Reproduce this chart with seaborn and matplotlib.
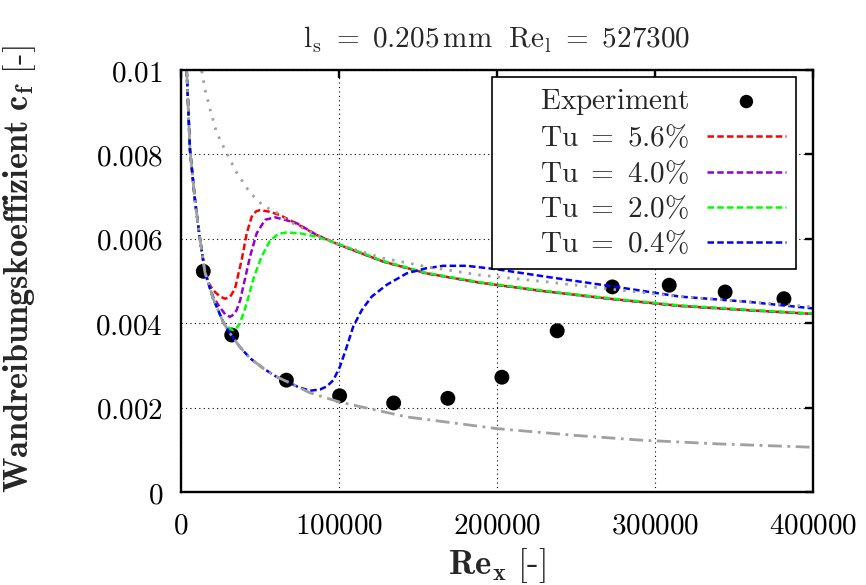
import matplotlib
matplotlib.use("Agg")
import matplotlib.pyplot as plt
from matplotlib.ticker import FixedLocator, FuncFormatter
import seaborn as sns

# Measured skin friction
exp_re = [14100, 32100, 66700, 100400, 134600, 168900, 203100, 238100,
          273000, 309000, 344400, 381600]
exp_cf = [0.00523, 0.00372, 0.00265, 0.00228, 0.00211, 0.00222, 0.00272,
          0.00382, 0.00486, 0.00490, 0.00474, 0.00458]

# Simulations for different inlet turbulence intensities
tu56_re = [3600, 5700, 8900, 11600, 15200, 18000, 20400, 24700, 28000, 31000,
           34200, 36500, 38400, 41600, 44700, 47500, 50000, 56300, 62700,
           71100, 85900, 100600, 128000, 155500, 189200, 231400, 273600,
           315800, 358000, 400000]
tu56_cf = [0.0100, 0.0081, 0.0069, 0.0061, 0.0052, 0.00492, 0.00478, 0.00463,
           0.00458, 0.00462, 0.00482, 0.00520, 0.00550, 0.00613, 0.00652,
           0.00665, 0.00668, 0.00664, 0.00656, 0.00640, 0.00609, 0.00585,
           0.00546, 0.00518, 0.00496, 0.00475, 0.00457, 0.00441, 0.00431,
           0.00422]

tu40_re = [3600, 5700, 8900, 11600, 15200, 20400, 24700, 28000, 31000, 33500,
           35200, 37500, 39400, 43700, 47900, 53200, 59500, 64800, 73200,
           85900, 100600, 128000, 155500, 189200, 231400, 273600, 315800,
           358000, 400000]
tu40_cf = [0.0100, 0.0081, 0.0069, 0.0061, 0.0052, 0.00462, 0.00437, 0.00421,
           0.00415, 0.00421, 0.00431, 0.00455, 0.00487, 0.00558, 0.00613,
           0.00645, 0.00651, 0.00646, 0.00637, 0.00609, 0.00585, 0.00546,
           0.00518, 0.00496, 0.00475, 0.00457, 0.00441, 0.00431, 0.00422]

tu20_re = [3600, 5700, 8900, 11600, 15200, 20400, 26800, 31000, 33100, 35500,
           37300, 41600, 45800, 51000, 56300, 61600, 66900, 75300, 85900,
           99600, 128000, 155500, 189200, 231400, 273600, 315800, 358000,
           400000]
tu20_cf = [0.0100, 0.0081, 0.0069, 0.0061, 0.0052, 0.00458, 0.00402, 0.00386,
           0.00384, 0.00390, 0.00400, 0.00447, 0.00505, 0.00558, 0.00595,
           0.00612, 0.00615, 0.00613, 0.00605, 0.00588, 0.00547, 0.00519,
           0.00497, 0.00476, 0.00458, 0.00442, 0.00432, 0.00423]

tu04_re = [3600, 5700, 8900, 11600, 15200, 20400, 26800, 31000, 37000, 43700,
           52100, 60000, 66900, 74000, 81600, 88000, 92200, 96400, 100600,
           104900, 109000, 114400, 120700, 130200, 142800, 155000, 166000,
           180800, 199500, 231400, 273600, 315800, 358000, 400000]
tu04_cf = [0.0100, 0.0081, 0.0069, 0.0061, 0.0052, 0.00458, 0.00402, 0.00376,
           0.00345, 0.00317, 0.00293, 0.00274, 0.00262, 0.00249, 0.00240,
           0.00243, 0.00250, 0.00265, 0.00297, 0.00344, 0.00392, 0.00431,
           0.00463, 0.00491, 0.00518, 0.00530, 0.00536, 0.00536, 0.00528,
           0.00510, 0.00487, 0.00463, 0.00451, 0.00435]

# Laminar (Blasius) and turbulent reference correlations
lam_re = [3600, 5700, 8900, 11600, 15200, 20400, 26800, 31000, 37000, 43700,
          52100, 60000, 66900, 74000, 81600, 100600, 142800, 200400, 250000,
          290500, 340000, 400000]
lam_cf = [0.0100, 0.0081, 0.0069, 0.0061, 0.0052, 0.00458, 0.00402, 0.00376,
          0.00345, 0.00317, 0.00293, 0.00274, 0.00262, 0.00249, 0.00235,
          0.00213, 0.00178, 0.00150, 0.00134, 0.00123, 0.00114, 0.00106]

turb_re = [13100, 15200, 18400, 22600, 28900, 35200, 43700, 52100, 60600,
           69000, 85900, 100600, 128000, 155500, 189200, 231400, 273600,
           315800, 358000, 400000]
turb_cf = [0.00998, 0.00954, 0.00907, 0.00851, 0.00803, 0.00757, 0.00709,
           0.00678, 0.00662, 0.00640, 0.00609, 0.00585, 0.00554, 0.00534,
           0.00514, 0.00498, 0.00480, 0.00463, 0.00451, 0.00439]

x_ticks = [0, 100000, 200000, 300000, 400000]
y_ticks = [0, 0.002, 0.004, 0.006, 0.008, 0.01]
y_tick_labels = ["0", "0.002", "0.004", "0.006", "0.008", "0.01"]

sns.set_theme(style="white")
plt.rcParams.update({
    "mathtext.fontset": "cm",
    "font.family": ["DejaVu Serif"],
    "font.size": 21,
    "axes.unicode_minus": False,
})

W, H = 866, 585
fig = plt.figure(figsize=(W / 100, H / 100), dpi=100)
ax = fig.add_axes([181 / W, 1 - 492 / H, 632 / W, 422 / H])

dash = (0, (2.6, 1.3))
lw = 1.8

sns.scatterplot(x=exp_re, y=exp_cf, ax=ax, color="black", s=115,
                edgecolor="none", label=r"$\ \ \ \ \,\mathrm{Experiment}$",
                zorder=3)

series = [
    (tu56_re, tu56_cf, "#ff0000", r"$\mathrm{Tu}\ =\ 5.6\%$"),
    (tu40_re, tu40_cf, "#9400d3", r"$\mathrm{Tu}\ =\ 4.0\%$"),
    (tu20_re, tu20_cf, "#00ff00", r"$\mathrm{Tu}\ =\ 2.0\%$"),
    (tu04_re, tu04_cf, "#0000ff", r"$\mathrm{Tu}\ =\ 0.4\%$"),
]
for xs, ys, col, lab in series:
    sns.lineplot(x=xs, y=ys, ax=ax, color=col, linewidth=lw, linestyle=dash,
                 label=lab, estimator=None, zorder=4)

sns.lineplot(x=turb_re, y=turb_cf, ax=ax, color="#a0a0a0", linewidth=2.0,
             linestyle=(0, (0.9, 2.6)), estimator=None, legend=False, zorder=5)
sns.lineplot(x=lam_re, y=lam_cf, ax=ax, color="#a0a0a0", linewidth=2.0,
             linestyle=(0, (5, 2, 1, 2)), estimator=None, legend=False, zorder=5)

ax.set_xlim(0, 400000)
ax.set_ylim(0, 0.01)
ax.xaxis.set_major_locator(FixedLocator(x_ticks))
ax.yaxis.set_major_locator(FixedLocator(y_ticks))
ax.xaxis.set_major_formatter(FuncFormatter(lambda v, p: r"$%d$" % round(v)))
ax.yaxis.set_major_formatter(
    FuncFormatter(lambda v, p: r"$%s$" % y_tick_labels[p]
                  if p is not None and p < len(y_tick_labels) else ""))

ax.grid(True, color="black", linestyle=(0, (1, 3)), linewidth=0.8)
for s in ax.spines.values():
    s.set_visible(True)
    s.set_color("black")
    s.set_linewidth(1.7)
    s.set_zorder(6)
ax.tick_params(direction="in", length=6, width=1.7, top=True, right=True,
               colors="black", labelsize=21, pad=13)
ax.tick_params(axis="x", pad=14)

ax.set_title(r"$\mathrm{l_s}\ =\ 0.205\,\mathrm{mm}\ \ \mathrm{Re_l}\ =\ 527300$",
             fontsize=21, pad=16)
ax.set_xlabel(r"$\mathbf{Re_x}\ \mathbf{[\text{-}]}$", fontsize=25, labelpad=5)
ax.set_ylabel(r"$\mathbf{Wandreibungskoeffizient}\ \mathbf{c_f}\ \mathbf{[\text{-}]}$",
              fontsize=24.7)
ax.yaxis.set_label_coords(-0.226, 0.528)

handles, labels = ax.get_legend_handles_labels()
leg = ax.legend(handles, labels, loc="upper right",
                bbox_to_anchor=((796 - 181) / 632, (492 - 77) / 422),
                borderaxespad=0, markerfirst=False, fancybox=False,
                framealpha=1, edgecolor="black", fontsize=21,
                handlelength=2.7, handletextpad=0.6, labelspacing=0.25,
                borderpad=0.35, markerscale=0.9)
leg.get_frame().set_linewidth(1.2)
leg.set_zorder(7)

fig.savefig("out.png", dpi=100)
